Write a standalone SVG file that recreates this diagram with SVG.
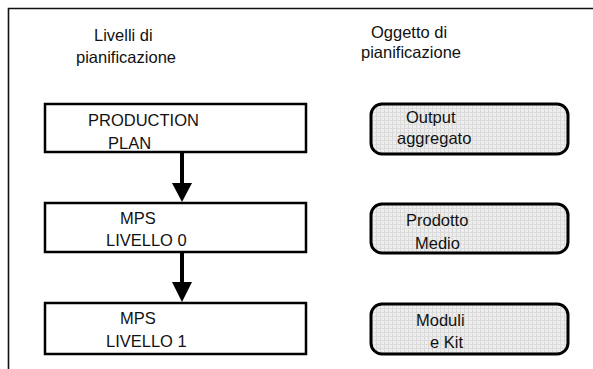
<svg xmlns="http://www.w3.org/2000/svg" width="593" height="369" viewBox="0 0 593 369">
<style>
text{font-family:"Liberation Sans",Arial,sans-serif;font-size:16.5px;fill:#111}
.lvl{fill:#fff;stroke:#000;stroke-width:2.5}
.obj{fill:url(#dots);stroke:#000;stroke-width:3}
.arr{stroke:#000;stroke-width:4;fill:none}
</style>
<defs>
<pattern id="dots" width="4" height="4" patternUnits="userSpaceOnUse">
<rect width="4" height="4" fill="#eeeeee"/>
<rect x="0" y="0" width="1" height="4" fill="#d9d9d9"/>
<rect x="0" y="0" width="4" height="1" fill="#dcdcdc"/>
</pattern>
</defs>
<rect width="593" height="369" fill="#fff"/>
<path d="M8.5 369V8.5H593" fill="none" stroke="#111" stroke-width="1.6"/>
<text x="94" y="40.5">Livelli di</text>
<text x="76" y="62.5">pianificazione</text>
<text x="371" y="37.5">Oggetto di</text>
<text x="361" y="58">pianificazione</text>
<g id="connectors">
<line class="arr" x1="182" y1="152" x2="182" y2="184"/>
<polygon points="172,183 192,183 182,202"/>
<line class="arr" x1="182" y1="252" x2="182" y2="283"/>
<polygon points="172,282 192,282 182,302"/>
</g>
<g id="production-plan">
<rect class="lvl" x="45" y="104" width="261" height="48"/>
<text x="88" y="126">PRODUCTION</text>
<text x="108" y="149">PLAN</text>
</g>
<g id="mps0">
<rect class="lvl" x="45" y="203" width="261" height="49"/>
<text x="120" y="223.5">MPS</text>
<text x="106" y="246">LIVELLO 0</text>
</g>
<g id="mps1">
<rect class="lvl" x="45" y="303" width="261" height="51"/>
<text x="120" y="324">MPS</text>
<text x="106" y="347">LIVELLO 1</text>
</g>
<g id="output">
<rect class="obj" x="371" y="104" width="197" height="50" rx="11"/>
<text x="406" y="123">Output</text>
<text x="397" y="143.5">aggregato</text>
</g>
<g id="prodotto">
<rect class="obj" x="371" y="204" width="197" height="49" rx="11"/>
<text x="406" y="226">Prodotto</text>
<text x="415" y="248.5">Medio</text>
</g>
<g id="moduli">
<rect class="obj" x="371" y="304" width="197" height="50" rx="11"/>
<text x="416" y="326">Moduli</text>
<text x="430" y="347.5">e Kit</text>
</g>
</svg>
